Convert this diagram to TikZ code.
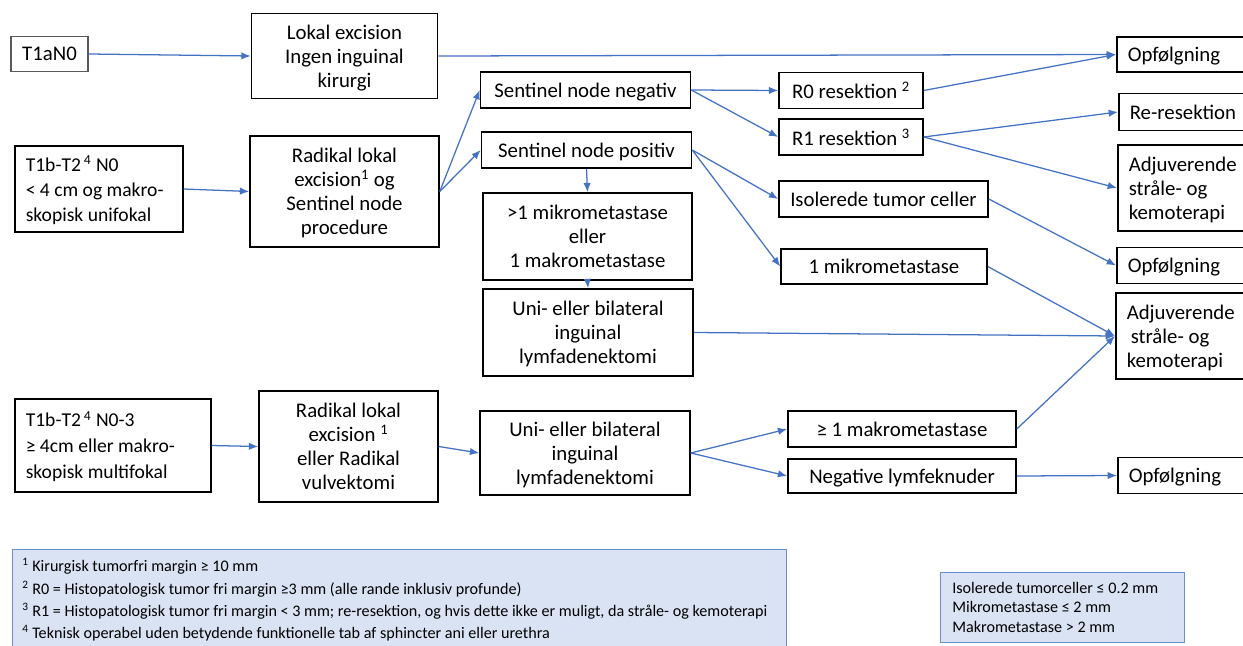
\documentclass[tikz,border=0pt]{standalone}
\usepackage{fontspec}
\setmainfont{Carlito}
\usetikzlibrary{arrows.meta}
\definecolor{arr}{HTML}{4472C4}
\definecolor{fnfill}{HTML}{DAE3F3}
\definecolor{fnline}{HTML}{6A8FD0}
\newcommand\lefttext[2]{\raisebox{-1.7pt}[\height][\depth]{\makebox[#1][l]{\begin{tabular}[b]{@{}l@{}}#2\end{tabular}}}}
\begin{document}
\begin{tikzpicture}[x=0.75pt,y=-0.75pt,
  box/.style={draw=black, line width=1.15pt, align=center, inner sep=0pt, text depth=0pt, font=\fontsize{15.6}{18}\selectfont},
  wh/.style 2 args={minimum width=#1*0.75pt, minimum height=#2*0.75pt},
  lbox/.style={draw=black, line width=1.15pt, anchor=west, inner ysep=0pt, inner xsep=8.25pt, font=\fontsize{15.6}{18}\selectfont},
  conn/.style={draw=arr, line width=0.95pt, -{Latex[length=7pt,width=5.5pt]}},
  fnbox/.style={draw=fnline, fill=fnfill, line width=1pt, inner sep=0pt},
  fntext/.style={anchor=base west, inner sep=0pt, font=\fontsize{12.1}{14}\selectfont}
]
\useasboundingbox (0,0) rectangle (1243,646);

% left column
\node[box, draw=black!65, wh={77}{35}] (t1a) at (49.5,54) {T1aN0};
\node[lbox, minimum height=86*0.75pt, font=\fontsize{14.7}{18.75}\selectfont] (t1b) at (14,189) {\lefttext{109.5pt}{T1b-T2\hspace{0.15em}\textsuperscript{4} N0\\< 4 cm og makro-\\skopisk unifokal}};
\node[lbox, minimum height=93*0.75pt, font=\fontsize{14.7}{19.5}\selectfont] (t1c) at (14,445.5) {\lefttext{130.5pt}{T1b-T2\hspace{0.15em}\textsuperscript{4} N0-3\\≥ 4cm eller makro-\\skopisk multifokal}};

% second column
\node[box, wh={186}{85}] (lok) at (344.5,56) {Lokal excision\\Ingen inguinal\\kirurgi};
\node[box, wh={189}{111}] (rad1) at (344.5,191.5) {Radikal lokal\\excision\textsuperscript{1} og\\Sentinel node\\procedure};
\node[box, wh={179}{111}] (rad2) at (348.5,446.5) {Radikal lokal\\excision \textsuperscript{1}\\eller Radikal\\vulvektomi};

% third column
\node[box, wh={210}{36}] (sneg) at (585.5,90) {Sentinel node negativ};
\node[box, wh={210}{36}] (spos) at (586.5,150) {Sentinel node positiv};
\node[box, wh={209}{87}] (mik1) at (587.5,236.5) {>1 mikrometastase\\eller\\1 makrometastase};
\node[box, wh={210}{87}] (uni1) at (588,332.5) {Uni- eller bilateral\\inguinal\\lymfadenektomi};
\node[box, wh={210}{84}] (uni2) at (585,453) {Uni- eller bilateral\\inguinal\\lymfadenektomi};

% fourth column
\node[box, wh={144}{36}] (r0) at (851,90.5) {R0 resektion \textsuperscript{2}};
\node[box, wh={144}{36}] (r1) at (851,137) {R1 resektion \textsuperscript{3}};
\node[box, wh={209}{36}] (iso) at (883.5,199) {Isolerede tumor celler};
\node[box, wh={206}{35}] (mik2) at (884,266.5) {1 mikrometastase};
\node[box, wh={228}{36}] (mak) at (902,429) {≥ 1 makrometastase};
\node[box, wh={228}{34}] (neg) at (902,476) {Negative lymfeknuder};

% right column (cut by the page edge)
\node[lbox, minimum height=35*0.75pt] (opf1) at (1116,54.5) {\lefttext{82.5pt}{Opfølgning}};
\node[lbox, minimum height=37*0.75pt] (rer) at (1118,112) {\lefttext{82.5pt}{Re-resektion}};
\node[lbox, minimum height=86*0.75pt] (adj1) at (1117,188) {\lefttext{82.5pt}{Adjuverende\\stråle- og\\kemoterapi}};
\node[lbox, minimum height=36*0.75pt] (opf2) at (1116,265.5) {\lefttext{82.5pt}{Opfølgning}};
\node[lbox, minimum height=86*0.75pt] (adj2) at (1115,336) {\lefttext{82.5pt}{Adjuverende\\\hspace*{3pt}stråle- og\\kemoterapi}};
\node[lbox, minimum height=36*0.75pt] (opf3) at (1117,475.5) {\lefttext{82.5pt}{Opfølgning}};

% connectors
\draw[conn] (t1a.east) -- (lok.west);
\draw[conn] (lok.east) -- (opf1.west);
\draw[conn] (t1b.east) -- (rad1.west);
\draw[conn] (rad1.east) -- (sneg.west);
\draw[conn] (rad1.east) -- (spos.west);
\draw[conn] (spos.south) -- (mik1.north);
\draw[conn] (mik1.south) -- (uni1.north);
\draw[conn] (sneg.east) -- (r0.west);
\draw[conn] (sneg.east) -- (r1.west);
\draw[conn] (r0.east) -- (opf1.west);
\draw[conn] (r1.east) -- (rer.west);
\draw[conn] (r1.east) -- (adj1.west);
\draw[conn] (spos.east) -- (iso.west);
\draw[conn] (spos.east) -- (mik2.west);
\draw[conn] (iso.east) -- (opf2.west);
\draw[conn] (mik2.east) -- (adj2.west);
\draw[conn] (uni1.east) -- (adj2.west);
\draw[conn] (mak.east) -- (adj2.west);
\draw[conn] (t1c.east) -- (rad2.west);
\draw[conn] (rad2.east) -- (uni2.west);
\draw[conn] (uni2.east) -- (mak.west);
\draw[conn] (uni2.east) -- (neg.west);
\draw[conn] (neg.east) -- (opf3.west);

% footnotes
\node[fnbox, anchor=north west, minimum width=774*0.75pt, minimum height=110*0.75pt] (fnb) at (12,549) {};
\node[fntext] (fn1) at (22,571.5) {\textsuperscript{1} Kirurgisk tumorfri margin ≥ 10 mm};
\node[fntext] (fn2) at (22,594) {\textsuperscript{2} R0 = Histopatologisk tumor fri margin ≥3 mm (alle rande inklusiv profunde)};
\node[fntext] (fn3) at (22,616.5) {\textsuperscript{3} R1 = Histopatologisk tumor fri margin < 3 mm; re-resektion, og hvis dette ikke er muligt, da stråle- og kemoterapi};
\node[fntext] (fn4) at (22,638.5) {\textsuperscript{4} Teknisk operabel uden betydende funktionelle tab af sphincter ani eller urethra};

% legend
\node[fnbox, anchor=north west, minimum width=244*0.75pt, minimum height=70*0.75pt] (leg) at (940,572) {};
\node[fntext] (lg1) at (952,593) {Isolerede tumorceller ≤ 0.2 mm};
\node[fntext] (lg2) at (952,612.5) {Mikrometastase ≤ 2 mm};
\node[fntext] (lg3) at (952,632) {Makrometastase > 2 mm};
\end{tikzpicture}
\end{document}
